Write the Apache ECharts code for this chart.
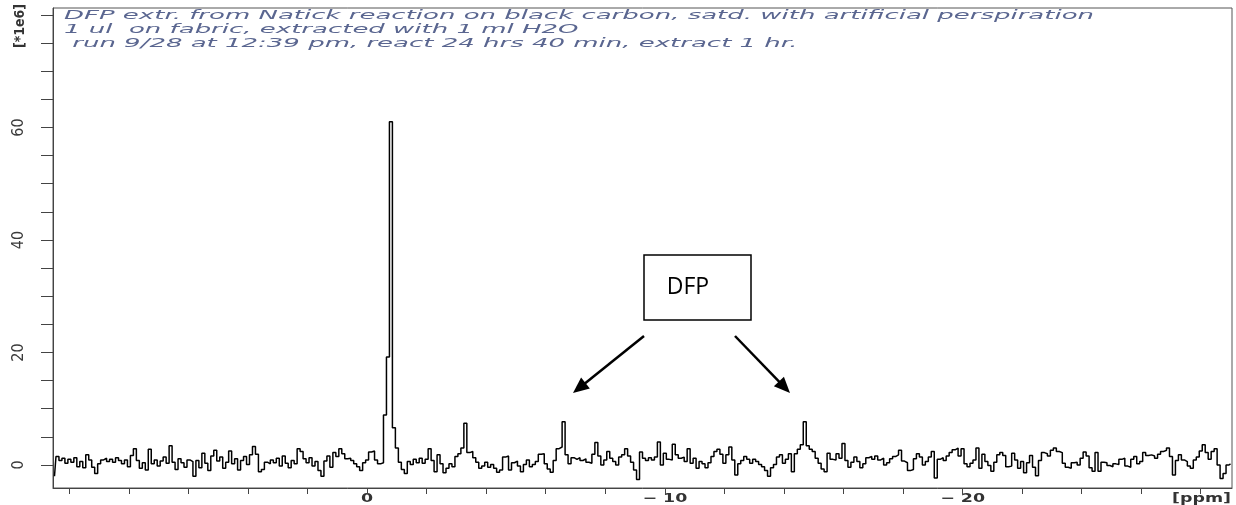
<!DOCTYPE html>
<html>
<head>
<meta charset="utf-8">
<script src="https://cdn.jsdelivr.net/npm/echarts@6/dist/echarts.min.js"></script>
<style>
  html, body { margin: 0; padding: 0; background: #fff; }
  #chart { width: 1236px; height: 505px; }
</style>
</head>
<body>
<div id="chart"></div>
<script>
// Spectrum sampling: first chemical shift and spacing (ppm)
const ppmStart = 10.5;
const ppmStep = -0.1;

// Signal intensity (x 1e6), one value per sample, from 10.5 ppm down to -29.0 ppm
const intensity = [
  -2.0, 1.5, 0.8, 1.2, 0.3, 1.0, 0.5, 1.3, -0.3, 0.6,
  -0.5, 1.8, 0.9, -0.4, -1.5, 0.2, 0.9, 1.2, 0.6, 1.0,
  0.5, 1.3, 0.8, 0.2, 0.9, -0.3, 1.7, 2.9, 0.8, -0.6,
  0.4, -0.9, 2.8, 0.2, 0.9, -0.2, 0.7, 1.4, 0.3, 3.4,
  0.5, -0.8, 1.1, 0.4, -0.4, 0.9, 0.6, -2.0, 0.8, -0.5,
  2.1, 0.3, -1.0, 1.6, 2.6, 0.7, 1.4, -0.6, 0.5, 2.5,
  0.2, 1.1, -0.9, 0.8, 1.5, 0.1, 1.8, 3.3, 1.9, -1.2,
  -0.8, 0.5, 0.2, 0.9, 0.4, 1.2, -0.2, 1.6, 0.3, -0.5,
  0.8, 0.2, 2.9, 2.4, 1.1, 0.4, 1.3, -0.2, 0.6, -1.0,
  -2.0, 0.7, 1.6, -0.4, 2.2, 1.5, 2.9, 2.0, 1.1, 1.2,
  0.8, 0.2, -0.3, -1.0, 0.4, 0.9, 2.3, 2.5, 0.9, 0.2,
  0.4, 8.9, 19.2, 61.0, 6.6, 3.0, 0.5, -0.8, -1.5, 0.6,
  0.1, 1.0, 0.4, 1.2, 0.3, 1.0, 2.9, 0.8, -1.2, 1.8,
  0.2, -1.4, -0.6, 0.2, -0.3, 1.5, 2.0, 3.0, 7.4, 2.2,
  2.4, 1.3, 0.5, -0.6, -0.2, 0.5, -0.4, 0.1, -0.6, -1.3,
  -0.9, 1.4, 1.6, -0.9, 0.4, 0.7, -0.2, -1.2, 0.1, 0.9,
  -0.3, 0.1, 0.6, 1.9, 2.0, 0.2, -0.7, -1.3, 0.8, 2.9,
  3.2, 7.7, 1.8, 0.2, 1.3, 1.0, 1.3, 0.8, 1.1, 0.5,
  0.3, 1.9, 4.0, 1.6, 0.0, 0.9, 2.4, 1.2, 0.6, 0.0,
  1.4, 1.8, 2.9, 1.6, 0.5, -0.9, -2.6, 2.3, 1.2, 0.8,
  1.3, 0.9, 1.4, 4.1, 0.0, 2.1, 1.0, 0.9, 3.7, 1.8,
  1.2, 1.4, 0.6, 2.9, 0.3, 1.2, -0.6, 0.6, 0.2, -0.5,
  0.4, 1.5, 2.4, 2.8, 1.9, 0.3, 1.8, 3.2, 0.9, -1.8,
  0.2, 0.8, 1.5, 1.0, 0.3, 1.0, 0.6, 0.1, -0.3, -1.0,
  -2.0, -0.5, 0.1, 1.4, 1.8, 0.3, 1.0, 2.0, -1.2, 2.0,
  2.8, 3.6, 7.7, 3.4, 2.8, 2.4, 1.2, 0.3, -0.7, -1.2,
  2.1, 1.0, 0.9, 2.0, 1.2, 3.8, 0.8, -0.4, 0.5, 1.4,
  0.6, -0.5, 0.2, 1.3, 1.5, 1.0, 1.6, 0.9, 1.2, 0.0,
  0.4, 1.1, 1.5, 1.8, 2.6, 0.7, 0.4, -1.0, -0.8, 1.1,
  2.0, 1.4, 0.0, 0.6, 1.4, 2.4, -2.3, 1.0, 1.3, 0.8,
  1.6, 2.2, 2.7, 3.0, 1.6, 2.9, 0.2, -0.3, 0.3, 0.9,
  3.0, -0.6, 1.9, 0.6, -0.1, -1.1, 0.5, 1.8, 2.2, 1.7,
  -0.3, -0.2, 2.1, 0.9, -0.6, 0.6, -1.4, 0.4, 1.7, -0.4,
  -1.9, 0.8, 2.2, 2.0, 1.6, 2.6, 3.0, 2.4, 2.2, 0.3,
  -0.4, -0.6, 0.4, 0.5, 0.0, 1.2, 2.3, 1.6, -0.5, -1.1,
  2.2, -1.1, 0.5, 0.4, -0.1, -0.3, 0.2, 0.1, 1.0, 1.2,
  -0.2, -0.4, 1.0, 1.5, 0.2, 0.6, 2.2, 1.7, 1.8, 1.6,
  1.2, 1.9, 2.4, 2.6, 3.0, 1.5, -1.8, 0.8, 1.8, 0.9,
  0.6, -0.2, -0.6, 0.9, 1.4, 2.5, 3.6, 2.2, 1.0, 2.4,
  2.9, 0.0, -2.4, -1.5, 0.0, 0.2
];

// Axis ticks and labels
const xTickValues = [-28, -26, -24, -22, -20, -18, -16, -14, -12, -10, -8, -6, -4, -2, 0, 2, 4, 6, 8, 10];
const xLabelValues = [-20, -10, 0];
const yTickValues = [0, 5, 10, 15, 20, 25, 30, 35, 40, 45, 50, 55, 60, 65, 70, 75, 80];
const yLabelValues = [0, 20, 40, 60];

// Texts
const headerLines = [
  'DFP extr. from Natick reaction on black carbon, satd. with artificial perspiration',
  '1 ul  on fabric, extracted with 1 ml H2O',
  ' run 9/28 at 12:39 pm, react 24 hrs 40 min, extract 1 hr.'
];
const annotationLabel = 'DFP';
const unitLabel = '[ppm]';
const scaleLabel = '[*1e6]';

const spectrum = intensity.map((v, i) => [+(ppmStart + ppmStep * i).toFixed(2), v]);

// Printout-style text is stretched horizontally
const headerFont = 'italic 12.5px "DejaVu Sans"';
const measureCtx = document.createElement('canvas').getContext('2d');
measureCtx.font = headerFont;
const headerScale = 1030 / measureCtx.measureText(headerLines[0]).width;
const axisTextScale = 1.45;
const narrowFont = '"Liberation Sans Narrow", "DejaVu Sans Condensed", sans-serif';

const headerGraphics = headerLines.map((t, k) => ({
  type: 'text',
  x: 64,
  y: 16 + k * 13.8,
  scaleX: headerScale,
  silent: true,
  style: {
    text: t,
    x: 0, y: 0,
    fontFamily: 'DejaVu Sans',
    fontStyle: 'italic',
    fontSize: 12.5,
    fill: '#5a6690',
    align: 'left',
    verticalAlign: 'middle'
  }
}));

function arrow(x1, y1, x2, y2) {
  const dx = x2 - x1, dy = y2 - y1;
  const len = Math.hypot(dx, dy);
  const ux = dx / len, uy = dy / len;
  const headLen = 16, headHalf = 7;
  const bx = x2 - ux * headLen, by = y2 - uy * headLen;
  return [
    {
      type: 'line', silent: true,
      shape: { x1: x1, y1: y1, x2: bx + ux * 2, y2: by + uy * 2 },
      style: { stroke: '#000', lineWidth: 2.5 }
    },
    {
      type: 'polygon', silent: true,
      shape: { points: [[x2, y2], [bx - uy * headHalf, by + ux * headHalf], [bx + uy * headHalf, by - ux * headHalf]] },
      style: { fill: '#000' }
    }
  ];
}

const chart = echarts.init(document.getElementById('chart'), null, { renderer: 'canvas' });

chart.setOption({
  animation: false,
  backgroundColor: '#fff',
  grid: {
    left: 53, right: 4, top: 8, bottom: 17,
    show: true, borderColor: '#555', borderWidth: 1, backgroundColor: 'transparent'
  },
  xAxis: {
    type: 'value',
    inverse: true,
    min: -29.05,
    max: 10.55,
    axisLine: { show: true, onZero: false, lineStyle: { color: '#444', width: 1 } },
    axisTick: { show: true, customValues: xTickValues, length: 6, lineStyle: { color: '#444' } },
    axisLabel: { show: false },
    splitLine: { show: false }
  },
  yAxis: {
    type: 'value',
    min: -4.09,
    max: 81.24,
    axisLine: { show: true, onZero: false, lineStyle: { color: '#444', width: 1 } },
    axisTick: { show: true, customValues: yTickValues, length: 12, lineStyle: { color: '#444' } },
    axisLabel: {
      customValues: yLabelValues,
      rotate: 90,
      margin: 26,
      fontFamily: narrowFont,
      fontSize: 16,
      color: '#3a3a3a'
    },
    splitLine: { show: false }
  },
  series: [{
    type: 'line',
    data: spectrum,
    step: 'middle',
    showSymbol: false,
    symbol: 'none',
    lineStyle: { color: '#000', width: 1.5 },
    silent: true
  }]
});

// x-axis labels, placed at their axis positions and stretched like the printout
const xLabelY = 499;
const xLabelGraphics = xLabelValues.map(v => ({
  type: 'text', silent: true,
  x: chart.convertToPixel({ xAxisIndex: 0 }, v),
  y: xLabelY,
  scaleX: axisTextScale,
  style: {
    text: v === 0 ? '0' : '\u2212 ' + Math.abs(v),
    fontFamily: 'DejaVu Sans', fontWeight: 'bold', fontSize: 12,
    fill: '#333', align: 'center', verticalAlign: 'middle'
  }
}));

chart.setOption({
  graphic: [
    ...headerGraphics,
    ...xLabelGraphics,
    {
      type: 'text', silent: true,
      x: 20, y: 26, rotation: Math.PI / 2,
      style: {
        text: scaleLabel, fontFamily: narrowFont, fontWeight: 'bold',
        fontSize: 14, fill: '#333', align: 'center', verticalAlign: 'middle'
      }
    },
    {
      type: 'text', silent: true,
      x: 1231, y: xLabelY,
      scaleX: axisTextScale,
      style: {
        text: unitLabel, fontFamily: 'DejaVu Sans', fontWeight: 'bold',
        fontSize: 12, fill: '#333', align: 'right', verticalAlign: 'middle'
      }
    },
    {
      type: 'rect', silent: true,
      shape: { x: 644, y: 255, width: 107, height: 65 },
      style: { fill: '#fff', stroke: '#000', lineWidth: 1.5 }
    },
    {
      type: 'text', silent: true,
      x: 688, y: 287,
      style: {
        text: annotationLabel, fontFamily: 'Open Sans', fontSize: 23,
        fill: '#000', align: 'center', verticalAlign: 'middle'
      }
    },
    ...arrow(644, 336, 573, 393),
    ...arrow(735, 336, 790, 393)
  ]
});
</script>
</body>
</html>
